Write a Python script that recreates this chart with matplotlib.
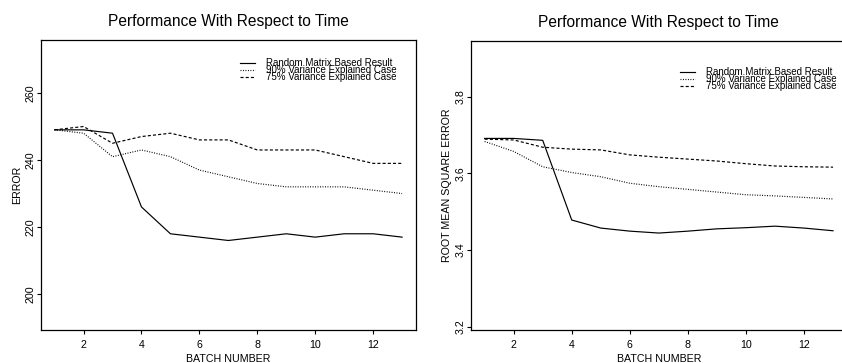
import matplotlib
matplotlib.use("Agg")
import matplotlib.pyplot as plt

plt.rcParams['font.family'] = ['Liberation Sans', 'DejaVu Sans']

batch = list(range(1, 14))

err_random = [249, 249, 248, 226, 218, 217, 216, 217, 218, 217, 218, 218, 217]
err_90 = [249, 248, 241, 243, 241, 237, 235, 233, 232, 232, 232, 231, 230]
err_75 = [249, 250, 245, 247, 248, 246, 246, 243, 243, 243, 241, 239, 239]

rmse_random = [3.691, 3.691, 3.686, 3.478, 3.457, 3.449, 3.444, 3.449, 3.455, 3.458, 3.462, 3.457, 3.450]
rmse_90 = [3.683, 3.657, 3.617, 3.602, 3.591, 3.574, 3.565, 3.558, 3.551, 3.544, 3.541, 3.537, 3.533]
rmse_75 = [3.689, 3.687, 3.668, 3.663, 3.661, 3.648, 3.642, 3.637, 3.632, 3.625, 3.619, 3.617, 3.616]

labels = ["Random Matrix Based Result", "90% Variance Explained Case", "75% Variance Explained Case"]
title = "Performance With Respect to Time"
xticks = [2, 4, 6, 8, 10, 12]
yticks_left = [200, 220, 240, 260]
yticks_right = [3.2, 3.4, 3.6, 3.8]

W, H = 842, 363
fig = plt.figure(figsize=(W / 100, H / 100), dpi=100)

def rect(l, t, r, b):
    return [l / W, 1 - b / H, (r - l) / W, (b - t) / H]

ax1 = fig.add_axes(rect(40.7, 40, 416, 330))
ax2 = fig.add_axes(rect(470.7, 40.7, 847, 330))

styles = [dict(ls='-'), dict(ls=(0, (0.8, 1.3))), dict(ls=(0, (2.6, 1.8)))]

def setup(ax, ys, yticks, ylim, ylabel, leg_anchor):
    handles = []
    for y, st in zip(ys, styles):
        h, = ax.plot(batch, y, color='black', lw=0.85, **st)
        handles.append(h)
    ax.set_xlim(0.52, 13.48)
    ax.set_ylim(*ylim)
    ax.set_xticks(xticks)
    ax.set_yticks(yticks)
    ax.set_yticklabels([str(v) for v in yticks], rotation=90, va='center')
    ax.tick_params(length=3, width=0.8, labelsize=7.7, color='black')
    ax.tick_params(axis='x', pad=4.5)
    ax.tick_params(axis='y', pad=1)
    for s in ax.spines.values():
        s.set_linewidth(0.9)
    ax.set_title(title, fontsize=11.2, pad=10)
    ax.set_xlabel("BATCH NUMBER", fontsize=7.7, labelpad=2.3)
    ax.set_ylabel(ylabel, fontsize=7.7, labelpad=2.5)
    leg = ax.legend(handles, labels, loc='upper left', bbox_to_anchor=leg_anchor,
                    frameon=False, fontsize=7, handlelength=1.55, handletextpad=1.1,
                    labelspacing=-0.33, handleheight=0.4, borderpad=0, borderaxespad=0)
    return leg

setup(ax1, [err_random, err_90, err_75], yticks_left, (189.3, 275.8), "ERROR", (0.531, 0.938))
setup(ax2, [rmse_random, rmse_90, rmse_75], yticks_right, (3.191, 3.946), "ROOT MEAN SQUARE ERROR", (0.556, 0.908))

fig.savefig("out.png", dpi=100)
